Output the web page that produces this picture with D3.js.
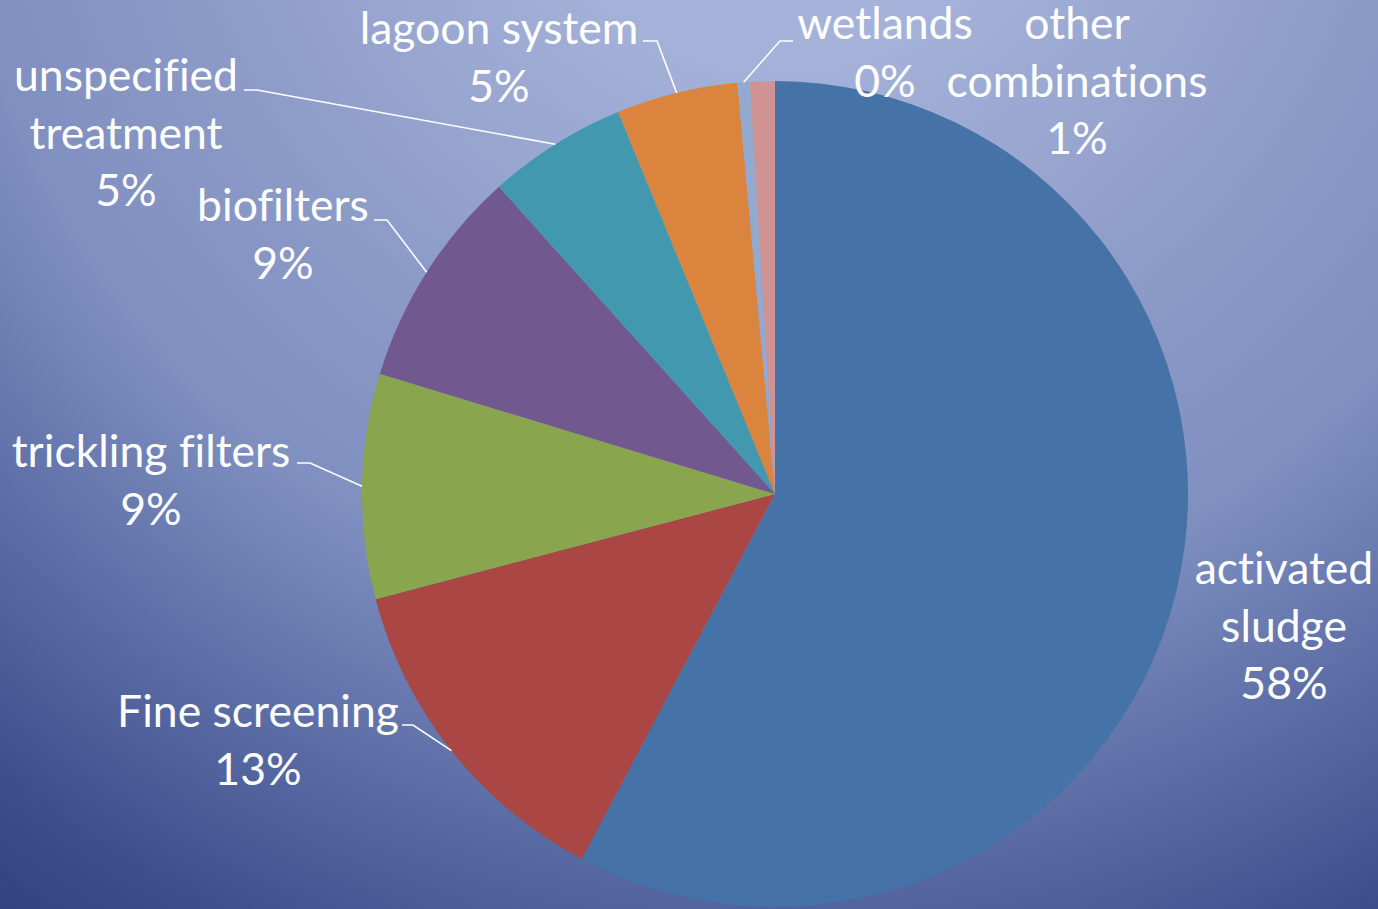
<!DOCTYPE html>
<html>
<head>
<meta charset="utf-8">
<script src="https://cdn.jsdelivr.net/npm/d3@7"></script>
<style>
  html, body { margin: 0; padding: 0; background: #2b3b78; }
  svg { display: block; }
  text {
    font-family: Lato, "Open Sans", sans-serif;
    fill: #ffffff;
    font-variant-ligatures: none;
    font-feature-settings: "liga" 0, "clig" 0;
  }
</style>
</head>
<body>
<script>
// Wastewater treatment types, share of plants (%)
const categories = [
  "activated sludge",
  "Fine screening",
  "trickling filters",
  "biofilters",
  "unspecified treatment",
  "lagoon system",
  "wetlands",
  "other combinations"
];
const shares = [57.75, 13.15, 8.8, 8.65, 5.45, 4.75, 0.48, 0.97];
const colors = ["#4572a7", "#aa4643", "#89a54e", "#71588f", "#4198af", "#db843d", "#93a9cf", "#d19392"];

// Label text lines (category name split over lines; the percentage is appended)
const labelLines = [
  ["activated", "sludge"],
  ["Fine screening"],
  ["trickling filters"],
  ["biofilters"],
  ["unspecified", "treatment"],
  ["lagoon system"],
  ["wetlands"],
  ["other", "combinations"]
];

// Label placement: centre x, first baseline, and optional leader [startX, startY, kneeX]
const labelLayout = [
  { x: 1284, y: 584, leader: null },
  { x: 258, y: 727, leader: [402, 725, 413] },
  { x: 151, y: 467, leader: [297, 463, 310] },
  { x: 283, y: 221, leader: [374, 220, 387] },
  { x: 126, y: 91, leader: [244, 90, 257] },
  { x: 499, y: 44, leader: [643, 41, 657] },
  { x: 885, y: 39, leader: [793, 41, 780] },
  { x: 1077, y: 39, leader: null }
];

const width = 1378, height = 909;
const cx = 775, cy = 494, radius = 413;
const lineHeight = 57.5;

const svg = d3.select("body").append("svg")
  .attr("width", width)
  .attr("height", height);

// Background: light glow near the top centre fading to deep navy in the corners
const defs = svg.append("defs");
const bg = defs.append("radialGradient")
  .attr("id", "bg")
  .attr("gradientUnits", "userSpaceOnUse")
  .attr("cx", 780).attr("cy", -200).attr("r", 1450);
[
  [0.00, "#aab7dd"],
  [0.18, "#a4b2d9"],
  [0.42, "#8c9ac7"],
  [0.57, "#7f8fc0"],
  [0.72, "#5c6ea6"],
  [0.86, "#3e4e8c"],
  [1.00, "#283875"]
].forEach(([o, c]) => bg.append("stop").attr("offset", o).attr("stop-color", c));

svg.append("rect")
  .attr("width", width).attr("height", height)
  .attr("fill", "url(#bg)");

const total = d3.sum(shares);
const pct = d3.format(".0%");

const pie = d3.pie()
  .sort(null)
  .value(d => d)
  .startAngle(0)
  .endAngle(2 * Math.PI);

const arcs = pie(shares);
const arc = d3.arc().innerRadius(0).outerRadius(radius);

const g = svg.append("g").attr("transform", `translate(${cx},${cy})`);

g.selectAll("path.slice")
  .data(arcs)
  .join("path")
  .attr("class", "slice")
  .attr("d", arc)
  .attr("fill", (d, i) => colors[i]);

// Leader lines: from the label, a short horizontal run, then to the arc midpoint
const edgePoint = d => {
  const a = (d.startAngle + d.endAngle) / 2;
  return [cx + radius * Math.sin(a), cy - radius * Math.cos(a)];
};

svg.append("g")
  .selectAll("path.leader")
  .data(arcs.filter((d, i) => labelLayout[i].leader))
  .join("path")
  .attr("class", "leader")
  .attr("fill", "none")
  .attr("stroke", "#ffffff")
  .attr("stroke-width", 1.6)
  .attr("d", d => {
    const [sx, sy, kx] = labelLayout[d.index].leader;
    const [ex, ey] = edgePoint(d);
    return d3.line()([[sx, sy], [kx, sy], [ex, ey]]);
  });

// Labels
const labels = svg.append("g")
  .selectAll("text.label")
  .data(arcs)
  .join("text")
  .attr("class", "label")
  .attr("text-anchor", "middle")
  .attr("font-size", 44.5)
  .attr("x", d => labelLayout[d.index].x)
  .attr("y", d => labelLayout[d.index].y);

labels.each(function (d) {
  const lines = labelLines[d.index].concat([pct(d.data / total)]);
  const t = d3.select(this);
  lines.forEach((s, j) => {
    t.append("tspan")
      .attr("x", labelLayout[d.index].x)
      .attr("dy", j === 0 ? 0 : lineHeight)
      .text(s);
  });
});
</script>
</body>
</html>
